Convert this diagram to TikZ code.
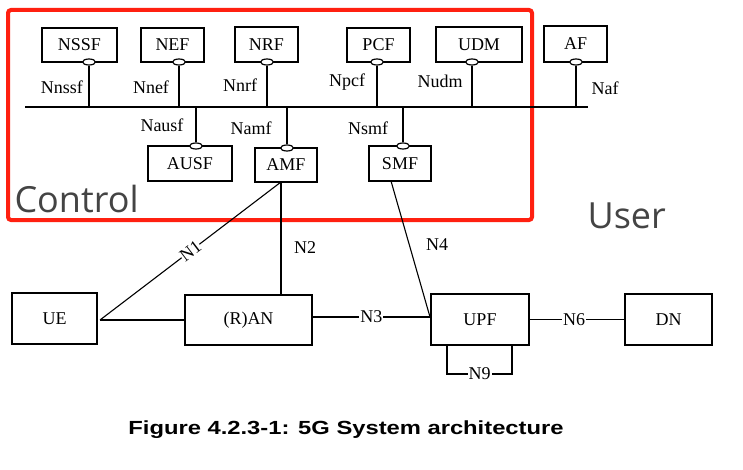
\documentclass[tikz,border=0pt]{standalone}
\usepackage{fontspec}
\setmainfont{Liberation Serif}
\newfontfamily\uifont{Open Sans}
\newfontfamily\capfont{Liberation Sans}
\usetikzlibrary{shapes.geometric}
\definecolor{ctlred}{RGB}{255,32,16}
\definecolor{ctlgray}{RGB}{68,68,68}

\begin{document}
\begin{tikzpicture}[x=1pt,y=-1pt]
	\tikzstyle{nf}=[rectangle,draw,line width=1.3pt,inner sep=0pt,font=\fontsize{18}{18}\selectfont]
	\tikzstyle{sap}=[ellipse,draw,fill=white,line width=1.2pt,minimum width=13pt,minimum height=6pt,inner sep=0pt]
	\tikzstyle{iface}=[inner sep=1pt,font=\fontsize{18}{18}\selectfont]
	\tikzstyle{link}=[line width=1.1pt]
	\useasboundingbox (0,0) rectangle (743,470);
	% control plane frame
	\draw[ctlred,line width=4pt,rounded corners=3pt] (8,10) rectangle (532,220);
	\node[anchor=base west,text=ctlgray,font=\uifont\fontsize{36}{36}\selectfont] (ctl) at (11,212){Control};
	\node[anchor=base west,text=ctlgray,font=\uifont\fontsize{36}{36}\selectfont] (usr) at (584,228){User};
	% network functions
	\node[nf,minimum width=75pt,minimum height=34pt] (nssf) at (79.5,45){NSSF};
	\node[nf,minimum width=63pt,minimum height=34pt] (nef) at (172.5,45){NEF};
	\node[nf,minimum width=63pt,minimum height=35pt] (nrf) at (266.5,44.5){NRF};
	\node[nf,minimum width=63pt,minimum height=34pt] (pcf) at (378.5,45){PCF};
	\node[nf,minimum width=86pt,minimum height=35pt] (udm) at (479,44.5){UDM};
	\node[nf,minimum width=63pt,minimum height=36pt] (af) at (575.5,44){AF};
	\node[nf,minimum width=84pt,minimum height=35pt] (ausf) at (190,163.5){AUSF};
	\node[nf,minimum width=62pt,minimum height=34pt] (amf) at (286,165){AMF};
	\node[nf,minimum width=62pt,minimum height=35pt] (smf) at (400,163.5){SMF};
	\node[nf,minimum width=85pt,minimum height=51pt] (ue) at (54.5,318.5){UE};
	\node[nf,minimum width=127pt,minimum height=50pt] (ran) at (248.5,320){(R)AN};
	\node[nf,minimum width=98pt,minimum height=51pt] (upf) at (480,319.5){UPF};
	\node[nf,minimum width=87pt,minimum height=51pt] (dn) at (668.5,319.5){DN};
	% service bus
	\coordinate (busL) at (25,107);
	\coordinate (busR) at (588,107);
	\draw[line width=1.3pt] (busL) -- (busR);
	\node[sap] (nssfp) at (89,62){};
	\node[sap] (nefp) at (179,62){};
	\node[sap] (nrfp) at (267,62){};
	\node[sap] (pcfp) at (377,62){};
	\node[sap] (udmp) at (472,62){};
	\node[sap] (afp) at (576,62){};
	\node[sap] (ausfp) at (196,146){};
	\node[sap] (amfp) at (287,148){};
	\node[sap] (smfp) at (403,146){};
	\foreach \p in {nssfp,nefp,nrfp,pcfp,udmp,afp}
		\draw[line width=1.3pt] (\p.south) -- (\p.south |- busL);
	\foreach \p in {ausfp,amfp,smfp}
		\draw[line width=1.3pt] (\p.north) -- (\p.north |- busL);
	\node[iface] (lnssf) at (62,87){Nnssf};
	\node[iface] (lnef) at (151,87){Nnef};
	\node[iface] (lnrf) at (240,85){Nnrf};
	\node[iface] (lpcf) at (347,82){Npcf};
	\node[iface] (ludm) at (440,81){Nudm};
	\node[iface] (laf) at (605,88){Naf};
	\node[iface] (lausf) at (162,125){Nausf};
	\node[iface] (lamf) at (251,128){Namf};
	\node[iface] (lsmf) at (368,128){Nsmf};
	% reference points
	\coordinate (uej) at (100,320);
	\coordinate (amfb) at (281,182);
	\coordinate (smfb) at (391,181);
	\coordinate (upfj) at (430,317);
	\draw[link] (uej) -- (ran.west |- uej);
	\draw[link] (uej) -- node[iface,fill=white,sloped,inner sep=0pt]{N1} (amfb);
	\draw[link] (amfb) -- (amfb |- ran.north);
	\node[iface] (ln2) at (305,248){N2};
	\draw[link] (ran.east |- upfj) -- node[iface,fill=white]{N3} (upfj);
	\draw[link] (smfb) -- (upfj);
	\node[iface] (ln4) at (437,245){N4};
	\draw[link] (upf.east |- dn.west) -- node[iface,fill=white,pos=0.47]{N6} (dn.west);
	\draw[link] (447,345) -- (447,374) -- node[iface,fill=white]{N9} (512,374) -- (512,345);
	% caption
	\node[font=\capfont\bfseries\fontsize{19}{19}\selectfont] (cap) at (346,430){\scalebox{1.25}[1]{Figure 4.2.3-1: 5G System architecture}};
\end{tikzpicture}
\end{document}
